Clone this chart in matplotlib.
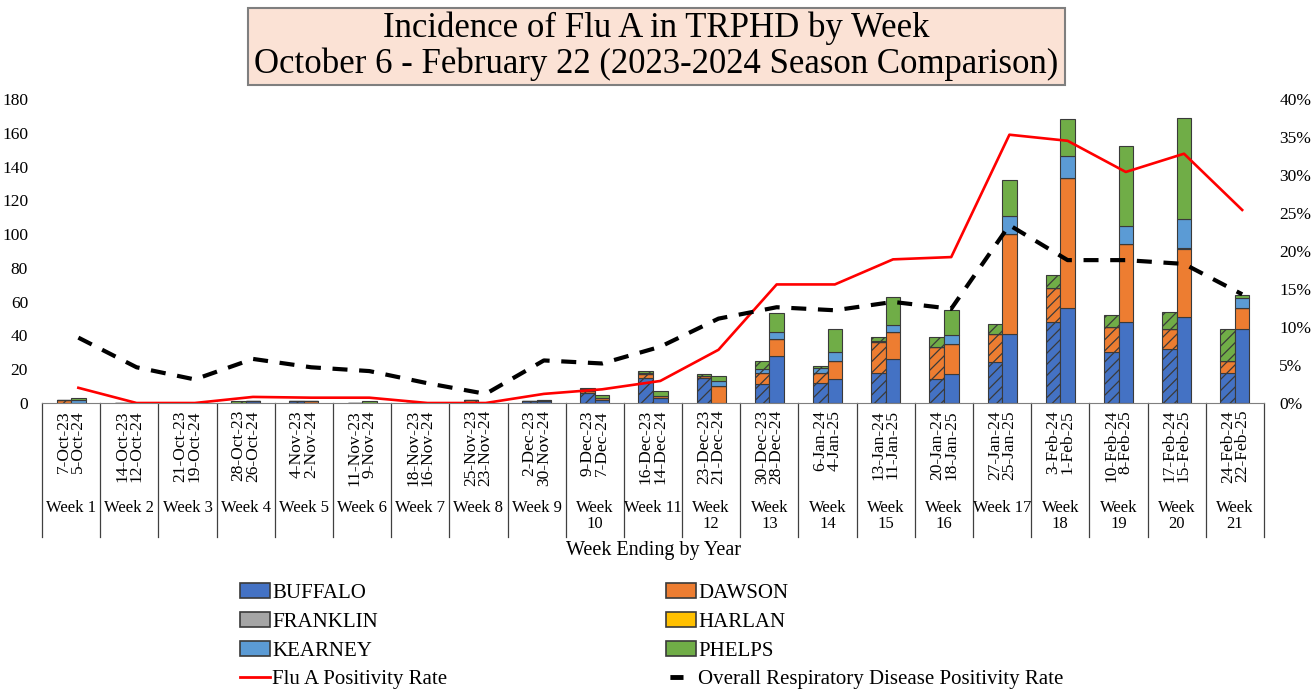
import matplotlib
matplotlib.use("Agg")
import matplotlib.pyplot as plt
import numpy as np
from matplotlib.patches import Rectangle, Patch
from matplotlib.lines import Line2D
from matplotlib.ticker import PercentFormatter

# ---- data ----
dates_2324 = ["7-Oct-23", "14-Oct-23", "21-Oct-23", "28-Oct-23", "4-Nov-23", "11-Nov-23",
              "18-Nov-23", "25-Nov-23", "2-Dec-23", "9-Dec-23", "16-Dec-23", "23-Dec-23",
              "30-Dec-23", "6-Jan-24", "13-Jan-24", "20-Jan-24", "27-Jan-24", "3-Feb-24",
              "10-Feb-24", "17-Feb-24", "24-Feb-24"]
dates_2425 = ["5-Oct-24", "12-Oct-24", "19-Oct-24", "26-Oct-24", "2-Nov-24", "9-Nov-24",
              "16-Nov-24", "23-Nov-24", "30-Nov-24", "7-Dec-24", "14-Dec-24", "21-Dec-24",
              "28-Dec-24", "4-Jan-25", "11-Jan-25", "18-Jan-25", "25-Jan-25", "1-Feb-25",
              "8-Feb-25", "15-Feb-25", "22-Feb-25"]
week_names = ["Week 1", "Week 2", "Week 3", "Week 4", "Week 5", "Week 6", "Week 7", "Week 8",
              "Week 9", "Week\n10", "Week 11", "Week\n12", "Week\n13", "Week\n14", "Week\n15",
              "Week\n16", "Week 17", "Week\n18", "Week\n19", "Week\n20", "Week\n21"]

counties = ["BUFFALO", "DAWSON", "FRANKLIN", "HARLAN", "KEARNEY", "PHELPS"]
colors = ["#4472C4", "#ED7D31", "#A5A5A5", "#FFC000", "#5B9BD5", "#70AD47"]

# 2023-2024 season (hatched bars)
buffalo_2324  = [0, 0, 0, 0, 1, 0, 0, 0, 1, 6, 15, 15, 11, 12, 18, 14, 24, 48, 30, 32, 18]
dawson_2324   = [2, 0, 0, 0, 0, 0, 0, 2, 0, 1, 2, 1, 7, 6, 18, 19, 17, 20, 15, 12, 7]
franklin_2324 = [0] * 21
harlan_2324   = [0] * 21
kearney_2324  = [0, 0, 0, 0, 0, 0, 0, 0, 0, 1, 1, 0, 2, 3, 1, 0, 0, 0, 0, 0, 0]
phelps_2324   = [0, 0, 0, 1, 0, 0, 0, 0, 0, 1, 1, 1, 5, 1, 2, 6, 6, 8, 7, 10, 19]

# 2024-2025 season (solid bars)
buffalo_2425  = [0, 0, 0, 1, 0, 0, 0, 0, 1, 2, 3, 0, 28, 14, 26, 17, 41, 56, 48, 51, 44]
dawson_2425   = [0, 0, 0, 0, 1, 0, 0, 0, 0, 1, 1, 10, 10, 11, 16, 18, 59, 77, 46, 40, 12]
franklin_2425 = [0, 0, 0, 0, 0, 0, 0, 0, 0, 0, 0, 0, 0, 0, 0, 0, 0, 0, 0, 1, 0]
harlan_2425   = [0] * 21
kearney_2425  = [2, 0, 0, 0, 0, 0, 0, 0, 1, 0, 0, 3, 4, 5, 4, 5, 11, 13, 11, 17, 6]
phelps_2425   = [1, 0, 0, 0, 0, 1, 0, 0, 0, 2, 3, 3, 11, 14, 17, 15, 21, 22, 47, 60, 2]

flu_a_rate = [2.0, 0, 0, 0.8, 0.7, 0.7, 0, 0, 1.2, 1.8, 2.9, 7.0, 15.6, 15.6, 18.9, 19.2,
              35.3, 34.5, 30.4, 32.8, 25.4]
resp_rate = [8.6, 4.7, 3.1, 5.8, 4.7, 4.2, 2.6, 1.2, 5.6, 5.2, 7.4, 11.1, 12.6, 12.2, 13.3,
             12.4, 23.4, 18.8, 18.8, 18.3, 14.3]

season_2324 = [buffalo_2324, dawson_2324, franklin_2324, harlan_2324, kearney_2324, phelps_2324]
season_2425 = [buffalo_2425, dawson_2425, franklin_2425, harlan_2425, kearney_2425, phelps_2425]

# ---- layout (pixels of the 1315x689 reference) ----
W, H = 1315, 689
AX_L, AX_R, AX_T, AX_B = 42, 1264, 99, 403
SERIF = "Liberation Serif"
plt.rcParams["font.family"] = [SERIF, "DejaVu Serif"]
plt.rcParams["hatch.linewidth"] = 0.9


def ay(py):
    # figure pixel row -> axes y fraction
    return (AX_B - py) / (AX_B - AX_T)


fig = plt.figure(figsize=(W / 100, H / 100), dpi=100)
ax = fig.add_axes([AX_L / W, 1 - AX_B / H, (AX_R - AX_L) / W, (AX_B - AX_T) / H])

x = np.arange(len(week_names))
bw = 0.25
edge = "#3a3a3a"

bottom = np.zeros(len(x))
for vals, c in zip(season_2324, colors):
    ax.bar(x - bw / 2, vals, bw, bottom=bottom, color=c, edgecolor=edge, linewidth=0.8,
           hatch="///")
    bottom += np.array(vals)

bottom = np.zeros(len(x))
for vals, c in zip(season_2425, colors):
    ax.bar(x + bw / 2, vals, bw, bottom=bottom, color=c, edgecolor=edge, linewidth=0.8)
    bottom += np.array(vals)

ax.set_xlim(-0.5, len(x) - 0.5)
ax.set_ylim(0, 180)
ax.set_yticks(range(0, 181, 20))
ax.set_xticks([])
ax.tick_params(axis="y", length=0, pad=10, labelsize=12.5)
for s in ["left", "right", "top"]:
    ax.spines[s].set_visible(False)
ax.spines["bottom"].set_color("#7f7f7f")

# secondary axis for the rates
ax2 = ax.twinx()
ax2.plot(x + bw / 2, np.array(flu_a_rate) / 100, color="#FF0000", lw=1.9)
ax2.plot(x + bw / 2, np.array(resp_rate) / 100, color="black", lw=3.0,
         linestyle=(0, (3.6, 2.8)))
ax2.set_ylim(0, 0.40)
ax2.set_yticks(np.arange(0, 0.401, 0.05))
ax2.yaxis.set_major_formatter(PercentFormatter(1.0, decimals=0))
ax2.tick_params(axis="y", length=0, pad=11, labelsize=12.5)
for s in ["left", "right", "top", "bottom"]:
    ax2.spines[s].set_visible(False)

# category boxes below the axis
xt = ax.get_xaxis_transform()
for b in np.arange(-0.5, len(x), 1):
    ax.plot([b, b], [0, ay(537)], transform=xt, color="#404040", lw=0.9, clip_on=False)
for i in x:
    ax.text(i, ay(410), dates_2324[i] + "\n" + dates_2425[i], transform=xt, rotation=90,
            ha="center", va="top", multialignment="right", fontsize=12.5, linespacing=0.85)
    ax.text(i, ay(500), week_names[i], transform=xt, ha="center", va="top",
            fontsize=12, linespacing=1.0)
ax.text(0.5, ay(541), "Week Ending by Year", transform=ax.transAxes, ha="center", va="top",
        fontsize=14.5)

# title box
fig.patches.append(Rectangle((248 / W, 1 - 85 / H), (1065 - 248) / W, 77 / H,
                             transform=fig.transFigure, facecolor="#FBE2D5",
                             edgecolor="#7f7f7f", lw=1.5))
fig.text(656 / W, 1 - 28 / H, "Incidence of Flu A in TRPHD by Week", ha="center",
         va="center", fontsize=25)
fig.text(656 / W, 1 - 64 / H, "October 6 - February 22 (2023-2024 Season Comparison)",
         ha="center", va="center", fontsize=25)

# legend
handles = [Patch(facecolor=c, edgecolor=edge, lw=1.2) for c in colors]
h_flu = Line2D([], [], color="#FF0000", lw=2)
h_resp = Line2D([], [], color="black", lw=3.5, linestyle=(21.9, (2.7, 20)))
leg_handles = [handles[0], handles[2], handles[4], h_flu, handles[1], handles[3], handles[5], h_resp]
leg_labels = ["BUFFALO", "FRANKLIN", "KEARNEY", "Flu A Positivity Rate",
              "DAWSON", "HARLAN", "PHELPS", "Overall Respiratory Disease Positivity Rate"]
fig.legend(leg_handles, leg_labels, ncol=2, loc="upper left",
           bbox_to_anchor=(240 / W, 1 - 583 / H), frameon=False, fontsize=15,
           handlelength=1.45, handleheight=0.7, handletextpad=0.1, labelspacing=0.45,
           columnspacing=10.5, borderpad=0, borderaxespad=0)

fig.savefig("out.png", dpi=100)
